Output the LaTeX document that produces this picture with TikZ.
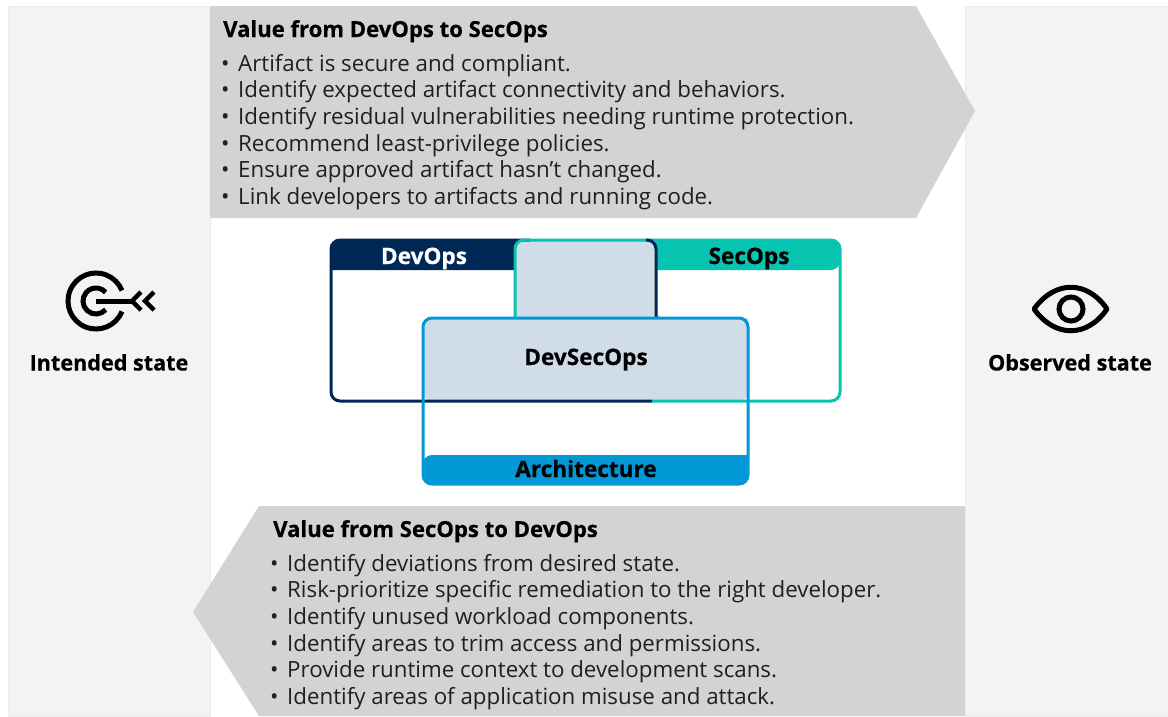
\documentclass[tikz,border=0pt]{standalone}
\usepackage{fontspec}
\setmainfont{Open Sans}
\definecolor{panelgray}{HTML}{F3F3F3}
\definecolor{arrowgray}{HTML}{D3D3D3}
\definecolor{devnavy}{HTML}{002857}
\definecolor{secteal}{HTML}{07C4B0}
\definecolor{archblue}{HTML}{0098D5}
\definecolor{overlap}{HTML}{D0DDE8}
\newcommand{\dotitem}{\makebox[17pt][l]{•}}
\tikzset{
	heavytext/.style={font=\fontsize{#1}{26}\selectfont\bfseries\addfontfeature{FakeBold=0.5}},
	titletext/.style={anchor=base west, inner sep=0pt, heavytext=22.1},
	itemtext/.style={anchor=north west, inner sep=0pt, align=left, text=black!88, font=\fontsize{22.3}{26.6}\selectfont},
	statetext/.style={anchor=base, inner sep=0pt, heavytext=21.6},
	headtext/.style={anchor=base, inner sep=0pt, heavytext=22.6},
	iconline/.style={line width=5pt},
	boxline/.style={line width=3pt, rounded corners=9pt}
}
\begin{document}
\begin{tikzpicture}[x=1pt,y=-1pt]
		\useasboundingbox (0,0) rectangle (1168,716);
		% side panels
		\fill [panelgray, draw=black!7] (8,6) rectangle (210,716);
		\fill [panelgray, draw=black!7] (965,6) rectangle (1168,716);
		% value arrows
		\fill [arrowgray] (210,6) -- (916,6) -- (975,111) -- (916,218) -- (210,218) -- cycle;
		\fill [arrowgray] (193,612) -- (259,506) -- (965,506) -- (965,716) -- (259,716) -- cycle;
		\node (toptitle) [titletext] at (223,37) {Value from DevOps to SecOps};
		\node (topitems) [itemtext] at (221,54) {\dotitem Artifact is secure and compliant.\\
			\dotitem Identify expected artifact connectivity and behaviors.\\
			\dotitem Identify residual vulnerabilities needing runtime protection.\\
			\dotitem Recommend least-privilege policies.\\
			\dotitem Ensure approved artifact hasn’t changed.\\
			\dotitem Link developers to artifacts and running code.};
		\node (bottomtitle) [titletext] at (273,537) {Value from SecOps to DevOps};
		\node (bottomitems) [itemtext] at (270,554) {\dotitem Identify deviations from desired state.\\
			\dotitem Risk-prioritize specific remediation to the right developer.\\
			\dotitem Identify unused workload components.\\
			\dotitem Identify areas to trim access and permissions.\\
			\dotitem Provide runtime context to development scans.\\
			\dotitem Identify areas of application misuse and attack.};
		% headers of the three boxes
		\fill [devnavy] [rounded corners=9pt] (331,270) -- (331,240) -- (656,240) -- (656,270) [sharp corners] -- cycle;
		\fill [secteal] [rounded corners=9pt] (515,270) -- (515,240) -- (840,240) -- (840,270) [sharp corners] -- cycle;
		\fill [archblue] [rounded corners=9pt] (748,455) -- (748,484) -- (423,484) -- (423,455) [sharp corners] -- cycle;
		% shared area
		\fill [overlap] [rounded corners=9pt] (515,318) -- (515,240) -- (656,240) -- (656,318) [sharp corners] -- (748,318) [rounded corners=9pt] -- (748,401) -- (423,401) -- (423,318) [sharp corners] -- cycle;
		% box outlines
		\draw [devnavy, boxline] (530,240) -- (331,240) -- (331,401) -- (652,401);
		\draw [secteal, boxline] (515,318) -- (515,240) -- (840,240) -- (840,401) -- (652,401);
		\draw [devnavy, boxline] (656,318) -- (656,240) -- (646,240);
		\draw [archblue, boxline] (423,318) rectangle (748,484);
		\node (devops) [headtext, text=white] at (424,264) {DevOps};
		\node (secops) [headtext] at (749,264) {SecOps};
		\node (devsecops) [headtext] at (586,365) {DevSecOps};
		\node (architecture) [headtext] at (586,477) {Architecture};
		% target icon
		\draw [iconline] (96,301) ++(22:28) arc (22:338:28);
		\draw [iconline] (96,301) ++(42:13) arc (42:318:13);
		\draw [iconline] (96,301) -- (133,301);
		\draw [line width=4.5pt] (141,292) -- (132,301) -- (141,310);
		\draw [line width=4.5pt] (154,292) -- (145,301) -- (154,310);
		\node (intended) [statetext] at (109,370.5) {Intended state};
		% eye icon
		\draw [iconline, line join=round] (1034,309) .. controls (1055,280) and (1087,280) .. (1107,309) .. controls (1087,338) and (1055,338) .. cycle;
		\draw [iconline] (1071,309) circle (12);
		\node (observed) [statetext] at (1070,370.5) {Observed state};
		\end{tikzpicture}
\end{document}
